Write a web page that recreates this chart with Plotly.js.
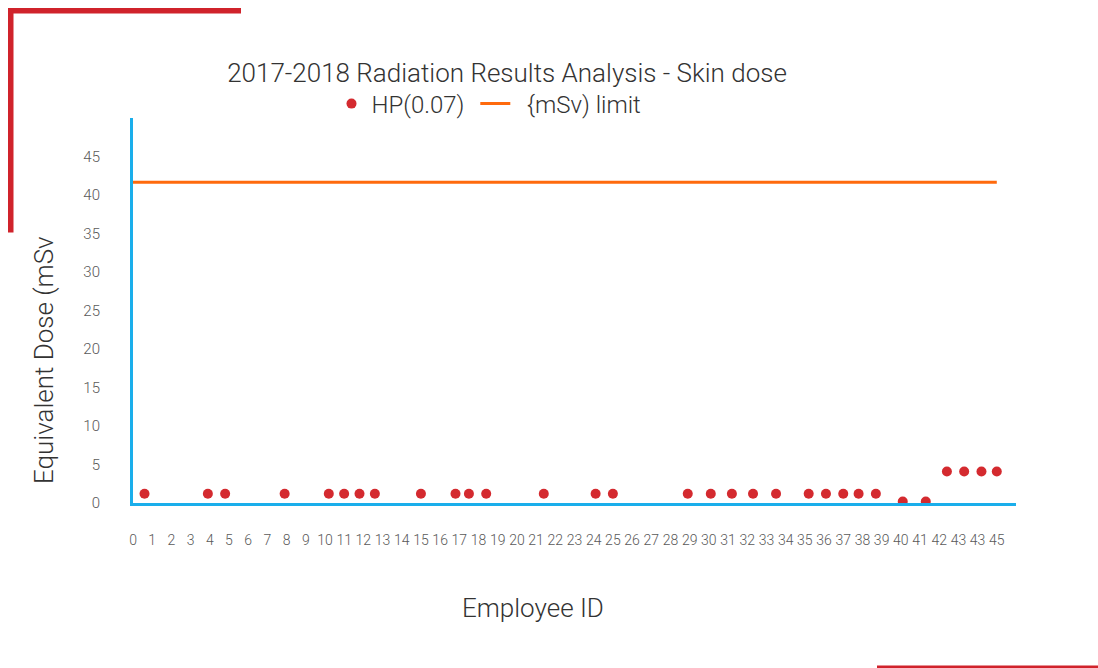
<!DOCTYPE html>
<html>
<head>
<meta charset="utf-8">
<script src="https://cdn.plot.ly/plotly-3.0.1.min.js"></script>
<style>html,body{margin:0;padding:0;background:#fff;}#chart{width:1098px;height:668px;}</style>
</head>
<body>
<div id="chart"></div>
<script>
// Data
const employeeX = [0.6, 3.9, 4.8, 7.9, 10.2, 11.0, 11.8, 12.6, 15.0, 16.8, 17.5, 18.4, 21.4,
  24.1, 25.0, 28.9, 30.1, 31.2, 32.3, 33.5, 35.2, 36.1, 37.0, 37.8, 38.7, 40.1, 41.3,
  42.4, 43.3, 44.2, 45.0];
const hpDose = [1.2, 1.2, 1.2, 1.2, 1.2, 1.2, 1.2, 1.2, 1.2, 1.2, 1.2, 1.2, 1.2,
  1.2, 1.2, 1.2, 1.2, 1.2, 1.2, 1.2, 1.2, 1.2, 1.2, 1.2, 1.2, 0.2, 0.2,
  4.1, 4.1, 4.1, 4.1];
const limitX = [0, 45];
const limitY = [41.67, 41.67];
const xTickVals = [0,1,2,3,4,5,6,7,8,9,10,11,12,13,14,15,16,17,18,19,20,21,22,23,24,25,26,27,28,29,30,31,32,33,34,35,36,37,38,39,40,41,42,43,44,45];
const xTickText = ["0","1","2","3","4","5","6","7","8","9","10","11","12","13","14","15","16","17","18","19","20","21","22","23","24","25","26","27","28","29","30","31","32","33","34","35","36","37","38","39","40","41","42","43","43","45"];
const yTickVals = [0,5,10,15,20,25,30,35,40,45];

const W = 1098, H = 668;
const M = {l:133, r:82, t:118, b:165};
const PW = W - M.l - M.r, PH = H - M.t - M.b;
const px = v => (v - M.l) / PW;
const py = v => (H - M.b - v) / PH;

const FONT = "Roboto, 'Helvetica Neue', Helvetica, Arial, sans-serif";
const RED = '#D0232B';

const traces = [
  {
    type: 'scatter', mode: 'markers', name: 'HP(0.07)\u00a0',
    x: employeeX, y: hpDose,
    marker: {color: '#D42A2F', size: 10}
  },
  {
    type: 'scatter', mode: 'lines', name: '\u00a0\u00a0{mSv) limit',
    x: limitX, y: limitY,
    line: {color: '#FF6A0D', width: 3}
  }
];

const layout = {
  width: W, height: H,
  margin: M,
  paper_bgcolor: '#fff', plot_bgcolor: '#fff',
  font: {family: FONT, color: '#595959', weight: 300},
  showlegend: true,
  title: {
    text: '2017-2018 Radiation Results Analysis - Skin dose',
    x: 507 / W, xanchor: 'center', y: 1 - 73 / H, yanchor: 'middle',
    font: {family: FONT, size: 26, color: '#333333', weight: 300}
  },
  legend: {
    orientation: 'h', x: px(489), xanchor: 'center', y: py(104), yanchor: 'middle',
    font: {family: FONT, size: 24, color: '#333333', weight: 300},
    bgcolor: 'rgba(0,0,0,0)'
  },
  xaxis: {
    range: [0, 46], showgrid: false, zeroline: false,
    showline: true, linecolor: '#1AAEEB', linewidth: 3,
    tickmode: 'array', tickvals: xTickVals, ticktext: xTickText, tickangle: 0,
    ticks: '', ticklabelstandoff: 22,
    tickfont: {family: FONT, size: 14, color: '#595959', weight: 300}
  },
  yaxis: {
    range: [0, 50], showgrid: false, zeroline: false,
    showline: true, linecolor: '#1AAEEB', linewidth: 3,
    tickmode: 'array', tickvals: yTickVals,
    ticks: '', ticklabelstandoff: 27,
    tickfont: {family: FONT, size: 15, color: '#595959', weight: 300}
  },
  annotations: [
    {
      text: 'Equivalent Dose (mSv', xref: 'paper', yref: 'paper',
      x: px(44), y: py(360), xanchor: 'center', yanchor: 'middle',
      textangle: -90, showarrow: false,
      font: {family: FONT, size: 26, color: '#333333', weight: 300}
    },
    {
      text: 'Employee ID', xref: 'paper', yref: 'paper',
      x: px(533), y: py(608), xanchor: 'center', yanchor: 'middle',
      showarrow: false,
      font: {family: FONT, size: 26, color: '#333333', weight: 300}
    }
  ],
  shapes: [
    {type: 'rect', xref: 'paper', yref: 'paper', x0: px(8), x1: px(241), y0: py(13.5), y1: py(8), fillcolor: RED, line: {width: 0}, layer: 'above'},
    {type: 'rect', xref: 'paper', yref: 'paper', x0: px(8), x1: px(13.5), y0: py(232.5), y1: py(8), fillcolor: RED, line: {width: 0}, layer: 'above'},
    {type: 'rect', xref: 'paper', yref: 'paper', x0: px(877), x1: px(1098), y0: py(668), y1: py(665.5), fillcolor: RED, line: {width: 0}, layer: 'above'}
  ]
};

Plotly.newPlot('chart', traces, layout, {displayModeBar: false, staticPlot: true});
</script>
</body>
</html>
